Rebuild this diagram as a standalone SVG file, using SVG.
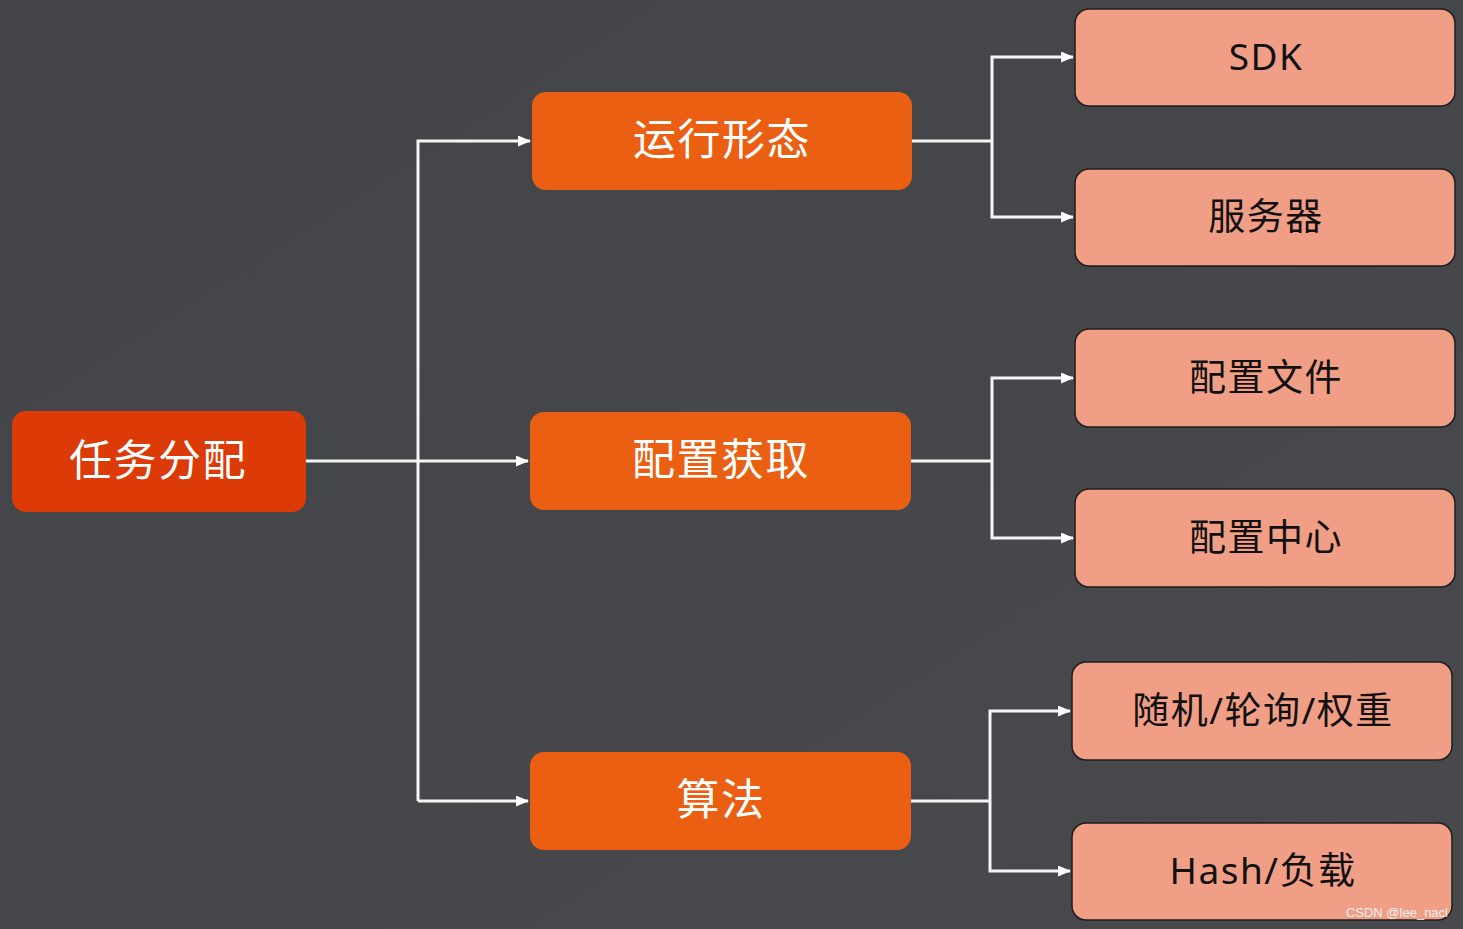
<svg xmlns="http://www.w3.org/2000/svg" width="1463" height="929" viewBox="0 0 1463 929">
<defs>
<linearGradient id="bg" x1="0" y1="0" x2="1" y2="1">
<stop offset="0" stop-color="#434447"/>
<stop offset="1" stop-color="#48494c"/>
</linearGradient>
<marker id="arr" viewBox="0 0 13 11" refX="12" refY="5.5" markerWidth="13" markerHeight="11" markerUnits="userSpaceOnUse" orient="auto">
<path d="M0,0 L13,5.5 L0,11 Z" fill="#ffffff"/>
</marker>
<style>
.root rect{fill:#dc3a07;}
.mid rect{fill:#ea5f12;}
.leaf rect{fill:#f19e86;stroke:#1e1e1e;stroke-width:1.5;}
text{font-family:"Noto Sans","Noto Sans CJK SC",sans-serif;text-anchor:middle;dominant-baseline:central;}
.root text,.mid text{fill:#ffffff;font-size:43px;letter-spacing:1.5px;}
.leaf text{fill:#111111;font-size:37px;letter-spacing:1.5px;}
.conn path{fill:none;stroke:#f5f5f5;stroke-width:3;}
.wm{font-family:"Liberation Sans",Arial,sans-serif;font-size:13px;fill:#f0f0f0;text-anchor:end;dominant-baseline:auto;letter-spacing:0;}
</style>
</defs>
<rect x="0" y="0" width="1463" height="929" fill="url(#bg)"/>
<g id="connectors" class="conn">
<path d="M306,461 H418"/>
<path d="M418,461 H528" marker-end="url(#arr)"/>
<path d="M418,801 V141 H530" marker-end="url(#arr)"/>
<path d="M418,801 H528" marker-end="url(#arr)"/>
<path d="M912,141 H992"/>
<path d="M992,141 V57 H1073" marker-end="url(#arr)"/>
<path d="M992,141 V217 H1073" marker-end="url(#arr)"/>
<path d="M911,461 H992"/>
<path d="M992,461 V378 H1073" marker-end="url(#arr)"/>
<path d="M992,461 V538 H1073" marker-end="url(#arr)"/>
<path d="M911,801 H990"/>
<path d="M990,801 V711 H1070" marker-end="url(#arr)"/>
<path d="M990,801 V871 H1070" marker-end="url(#arr)"/>
</g>
<g id="n-root" class="root"><rect x="12" y="411" width="294" height="101" rx="14"/><text x="158" y="459">任务分配</text></g>
<g id="n-run" class="mid"><rect x="532" y="92" width="380" height="98" rx="14"/><text x="722" y="138">运行形态</text></g>
<g id="n-conf" class="mid"><rect x="530" y="412" width="381" height="98" rx="14"/><text x="721" y="458">配置获取</text></g>
<g id="n-algo" class="mid"><rect x="530" y="752" width="381" height="98" rx="14"/><text x="721" y="798">算法</text></g>
<g id="n-sdk" class="leaf"><rect x="1075" y="9" width="380" height="97" rx="14"/><text x="1266" y="55">SDK</text></g>
<g id="n-server" class="leaf"><rect x="1075" y="169" width="380" height="97" rx="14"/><text x="1266" y="215">服务器</text></g>
<g id="n-file" class="leaf"><rect x="1075" y="329" width="380" height="98" rx="14"/><text x="1266" y="376">配置文件</text></g>
<g id="n-center" class="leaf"><rect x="1075" y="489" width="380" height="98" rx="14"/><text x="1266" y="536">配置中心</text></g>
<g id="n-rand" class="leaf"><rect x="1072" y="662" width="380" height="98" rx="14"/><text x="1263" y="709">随机/轮询/权重</text></g>
<g id="n-hash" class="leaf"><rect x="1072" y="823" width="380" height="97" rx="14"/><text x="1263" y="869">Hash/负载</text></g>
<text class="wm" x="1448" y="917">CSDN @lee_nacl</text>
</svg>
